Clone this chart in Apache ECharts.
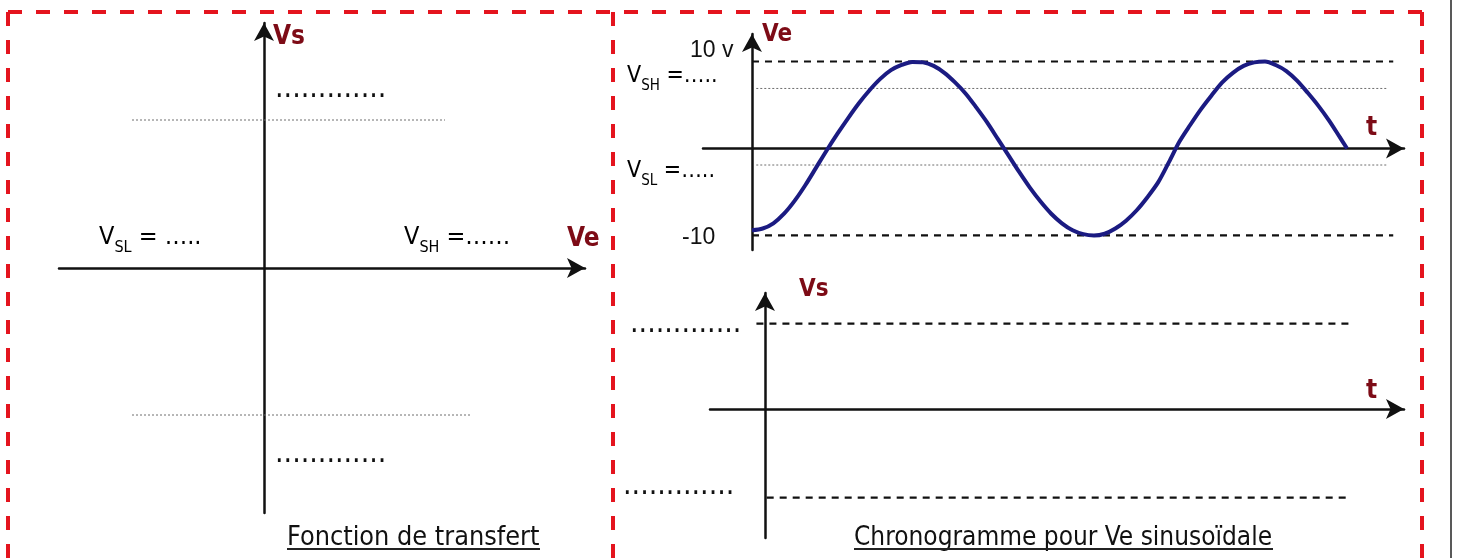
<!DOCTYPE html>
<html>
<head>
<meta charset="utf-8">
<script src="https://cdn.jsdelivr.net/npm/echarts@6/dist/echarts.min.js"></script>
<style>
  html, body { margin: 0; padding: 0; background: #fff; }
  #chart { width: 1457px; height: 558px; }
</style>
</head>
<body>
<div id="chart"></div>
<script>
// ---- Data ----
// Sinusoidal input Ve (time in quarter-periods, volts)
const veTime   = [0, 0.125, 0.25, 0.375, 0.5, 0.625, 0.75, 0.875, 1.0, 1.125, 1.25, 1.375, 1.5, 1.625, 1.75, 1.875,
                  2.0, 2.125, 2.25, 2.375, 2.5, 2.625, 2.75, 2.875, 3.0, 3.125, 3.25, 3.375, 3.5, 3.625, 3.75, 3.875,
                  4.0, 4.125, 4.25, 4.375, 4.5, 4.625, 4.75, 4.875, 5.0, 5.125, 5.25, 5.375, 5.5, 5.625, 5.75, 5.875,
                  6.0, 6.125, 6.25, 6.375, 6.5, 6.625, 6.75, 6.875, 6.96];
const veValues = [-9.4, -9.2, -8.6, -7.5, -6.0, -4.2, -2.2, -0.2, 1.7, 3.5, 5.2, 6.7, 8.0, 9.0, 9.6, 9.95,
                  9.9, 9.5, 8.7, 7.6, 6.3, 4.7, 3.0, 1.1, -0.8, -2.7, -4.5, -6.1, -7.5, -8.6, -9.4, -9.85,
                  -10.0, -9.8, -9.2, -8.3, -7.1, -5.6, -3.9, -1.6, 0.8, 2.7, 4.5, 6.1, 7.6, 8.7, 9.5, 9.9,
                  10.0, 9.6, 8.9, 7.8, 6.4, 4.9, 3.2, 1.3, 0];
const veTickLabels = ['10 v', '-10'];

// Guide lines of the transfer-function panel (Ve, Vs)
const transferUpperGuide = [[-6.6, 7.4], [9.05, 7.4]];
const transferLowerGuide = [[-6.6, -7.35], [10.3, -7.35]];
// Guide lines of the Ve chronogram (t, Ve)
const veMaxLine = [[0, 10], [7.5, 10]];
const veMinLine = [[0, -10], [7.5, -10]];
const veHighThreshold = [[0.05, 6.9], [7.43, 6.9]];
const veLowThreshold  = [[0.05, -1.9], [7.43, -1.9]];
// Guide lines of the Vs chronogram (t, Vs)
const vsHighLine = [[-0.1, 9.8], [6.88, 9.8]];
const vsLowLine  = [[0.02, -10.2], [6.8, -10.2]];

// Texts
const panelTitles = ['Fonction de transfert', 'Chronogramme pour Ve sinusoïdale'];
const axisNames = { transferY: 'Vs', transferX: 'Ve', chronoVe: 'Ve', chronoVs: 'Vs', time: 't' };
const blanks = '.............';

// ---- Chart ----
const chart = echarts.init(document.getElementById('chart'), null, { renderer: 'canvas' });

const FONT = "'DejaVu Sans Condensed', 'DejaVu Sans', sans-serif";
const NARROW = "'Liberation Sans Narrow', 'Liberation Sans', sans-serif";
const MAROON = '#7d0b16';
const RED = '#e4141e';

function axisPair(gridIndex, xmin, xmax, ymin, ymax) {
  const line = {
    show: true, onZero: true,
    symbol: ['none', 'arrow'], symbolSize: [15, 18],
    lineStyle: { color: '#111', width: 2.5 }
  };
  const common = {
    type: 'value', gridIndex,
    axisLine: line, axisTick: { show: false }, axisLabel: { show: false },
    splitLine: { show: false }, splitArea: { show: false }
  };
  return {
    x: Object.assign({}, common, { min: xmin, max: xmax }),
    y: Object.assign({}, common, { min: ymin, max: ymax })
  };
}
const a0 = axisPair(0, -10.25, 16.05, -12.25, 12.25);
const a1 = axisPair(1, -0.573, 7.626, -11.67, 13.16);
const a2 = axisPair(2, -0.643, 7.474, -14.83, 13.33);

function guide(data, xi, kind) {
  const dashed = kind === 'dashed';
  return {
    type: 'line', xAxisIndex: xi, yAxisIndex: xi, data,
    showSymbol: false, symbol: 'none', silent: true,
    lineStyle: dashed
      ? { color: '#111', width: 2.2, type: [7, 6] }
      : { color: '#6e6e6e', width: 1, type: [2, 2] },
    z: 1
  };
}

function txt(x, y, text, style) {
  return { type: 'text', x, y, silent: true,
    style: Object.assign({ text, fill: '#111', font: '26px ' + FONT, verticalAlign: 'middle', align: 'left' }, style) };
}
function vlabel(x, y, sub, rest, size, subSize) {
  return { type: 'text', x, y, silent: true,
    style: {
      text: '{v|V}{s|' + sub + '}{r|' + rest + '}',
      verticalAlign: 'middle', align: 'left',
      rich: {
        v: { fontSize: size, fontFamily: FONT, color: '#111', lineHeight: Math.round(size * 1.5), verticalAlign: 'middle' },
        s: { fontSize: subSize, fontFamily: FONT, color: '#111', lineHeight: subSize, verticalAlign: 'bottom' },
        r: { fontSize: size, fontFamily: FONT, color: '#111', lineHeight: Math.round(size * 1.5), verticalAlign: 'middle' }
      }
    } };
}
function frameLine(x1, y1, x2, y2) {
  return { type: 'line', silent: true, shape: { x1, y1, x2, y2 },
    style: { stroke: RED, lineWidth: 4, lineDash: [14, 14] }, z: 10 };
}
function underline(x1, x2, y) {
  return { type: 'line', silent: true, shape: { x1, y1: y, x2, y2: y },
    style: { stroke: '#222', lineWidth: 2 } };
}

const option = {
  animation: false,
  backgroundColor: '#fff',
  grid: [
    { left: 59, top: 23, width: 526, height: 490, containLabel: false },
    { left: 703, top: 34, width: 701, height: 216, containLabel: false },
    { left: 710, top: 293, width: 694, height: 245, containLabel: false }
  ],
  xAxis: [a0.x, a1.x, a2.x],
  yAxis: [a0.y, a1.y, a2.y],
  series: [
    guide(transferUpperGuide, 0, 'dotted'),
    guide(transferLowerGuide, 0, 'dotted'),
    guide(veMaxLine, 1, 'dashed'),
    guide(veMinLine, 1, 'dashed'),
    guide(veHighThreshold, 1, 'dotted'),
    guide(veLowThreshold, 1, 'dotted'),
    guide(vsHighLine, 2, 'dashed'),
    guide(vsLowLine, 2, 'dashed'),
    {
      name: 'Ve', type: 'line', xAxisIndex: 1, yAxisIndex: 1,
      data: veTime.map((t, i) => [t, veValues[i]]),
      smooth: 0.3, showSymbol: false, symbol: 'none',
      lineStyle: { color: '#1b1b82', width: 4 }, z: 5
    }
  ],
  graphic: [
    // frame
    frameLine(8, 12, 1422, 12),
    frameLine(8, 12, 8, 560),
    frameLine(613, 12, 613, 560),
    frameLine(1422, 12, 1422, 560),
    { type: 'line', silent: true, shape: { x1: 1451, y1: 0, x2: 1451, y2: 558 }, style: { stroke: '#222', lineWidth: 1.5 } },

    // left panel
    txt(273, 37, axisNames.transferY, { fill: MAROON, font: 'bold 26px ' + FONT }),
    txt(567, 239, axisNames.transferX, { fill: MAROON, font: 'bold 26px ' + FONT }),
    txt(275, 89, blanks, { font: '30px ' + FONT }),
    txt(275, 454, blanks, { font: '30px ' + FONT }),
    vlabel(99, 237, 'SL', ' = \u2026..', 25, 16),
    vlabel(404, 237, 'SH', ' =\u2026\u2026', 25, 16),
    txt(287, 538, panelTitles[0], { font: '26.8px ' + FONT }),
    underline(287, 540, 549),

    // right top panel
    txt(762, 35, axisNames.chronoVe, { fill: MAROON, font: 'bold 24px ' + FONT }),
    txt(1366, 128, axisNames.time, { fill: MAROON, font: 'bold 26px ' + FONT }),
    txt(690, 51, veTickLabels[0], { font: '23px ' + NARROW }),
    txt(682, 238, veTickLabels[1], { font: '23px ' + NARROW }),
    vlabel(627, 76, 'SH', ' =\u2026..', 23, 15),
    vlabel(627, 171, 'SL', ' =\u2026..', 23, 15),

    // right bottom panel
    txt(799, 290, axisNames.chronoVs, { fill: MAROON, font: 'bold 24px ' + FONT }),
    txt(1366, 391, axisNames.time, { fill: MAROON, font: 'bold 26px ' + FONT }),
    txt(630, 324, blanks, { font: '30px ' + FONT }),
    txt(623, 486, blanks, { font: '30px ' + FONT }),
    txt(854, 538, panelTitles[1], {}),
    underline(854, 1273, 549)
  ]
};
chart.setOption(option);
</script>
</body>
</html>
